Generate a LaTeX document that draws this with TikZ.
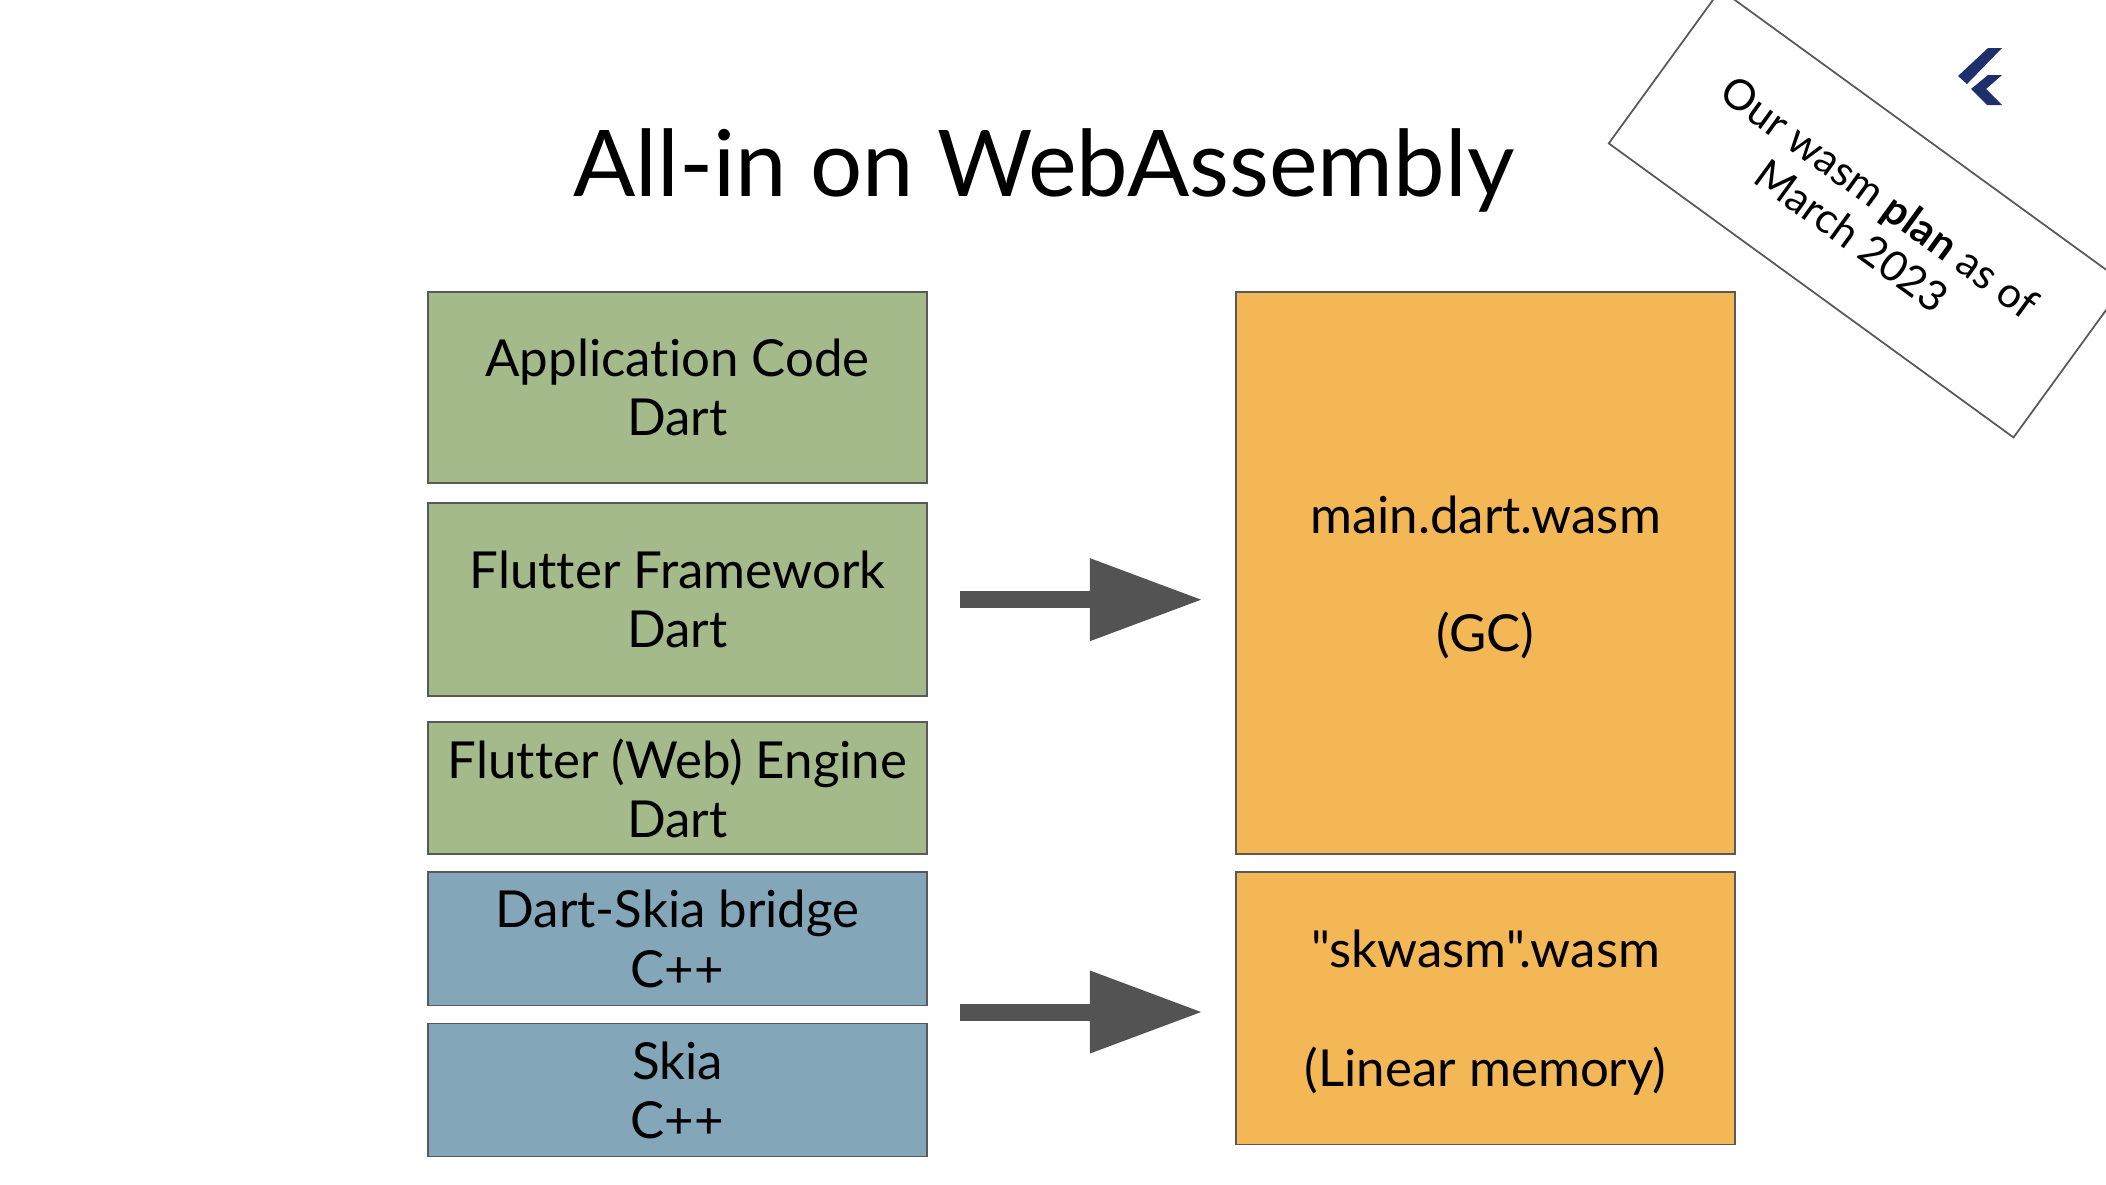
\documentclass[tikz,border=0pt]{standalone}
\usepackage{fontspec}
\newfontfamily\slidefont[Ligatures=NoCommon]{Lato}
\usetikzlibrary{positioning,arrows.meta}
\definecolor{boxgreen}{HTML}{A4BA8A}
\definecolor{boxblue}{HTML}{84A6B9}
\definecolor{boxorange}{HTML}{F3B855}
\definecolor{arrowgrey}{HTML}{535353}
\definecolor{logonavy}{HTML}{1E2F6B}
\newcommand{\toplift}{\rule{0pt}{13pt}}
\tikzset{
  stackbox/.style = {draw=black!65, line width=0.5pt, align=center, inner sep=0pt, outer sep=0pt, text centered, minimum width=4.99cm, font=\slidefont\fontsize{14.5}{16.8}\selectfont},
  dartbox/.style = {stackbox, fill=boxgreen},
  cppbox/.style = {stackbox, fill=boxblue, minimum height=1.33cm},
  wasmbox/.style = {stackbox, fill=boxorange},
  bigarrow/.style = {-{Triangle[length=1.13cm,width=0.78cm]}, arrowgrey, line width=0.17cm, shorten <=0.33cm, shorten >=0.33cm},
  notebox/.style = {draw=black!65, line width=0.5pt, inner sep=0pt, outer sep=0pt, minimum width=5cm, minimum height=1.9cm, rotate=-36},
  notetext/.style = {align=center, inner sep=0pt, rotate=-36, font=\slidefont\fontsize{12}{13.6}\selectfont},
  logopart/.style = {fill=logonavy}
}

\begin{document}
\begin{tikzpicture}[x=0.01cm, y=-0.01cm]

\clip (0,0) rectangle (2106,1184);

% Draw the title
\node [anchor=base, inner sep=0pt, font=\slidefont\fontsize{26.2}{30}\selectfont] (title) at (1044,196) {All-in on WebAssembly};

% Draw the left stack
\node [dartbox, anchor=north, minimum height=1.91cm] (app) at (677.5,292) {Application Code\\Dart};
\node [dartbox, below=0.2cm of app, minimum height=1.93cm] (framework) {Flutter Framework\\Dart};
\node [dartbox, below=0.26cm of framework, minimum height=1.32cm] (engine) {Flutter (Web) Engine\\Dart};
\node [cppbox, below=0.18cm of engine] (bridge) {Dart-Skia bridge\\C++};
\node [cppbox, below=0.18cm of bridge] (skia) {Skia\\C++};

% Draw the wasm files
\node [wasmbox, anchor=north, minimum height=5.62cm] (main) at (1485.5,292) {\toplift main.dart.wasm\\[16.8pt](GC)};
\node [wasmbox, below=0.18cm of main, minimum height=2.72cm] (skwasm) {\toplift "skwasm".wasm\\[16.8pt](Linear memory)};

% Draw the arrows
\coordinate (cpp) at (927,1012);
\draw [bigarrow] (framework.east) -- (framework.east -| main.west);
\draw [bigarrow] (cpp) -- (cpp -| skwasm.west);

% Draw the note in the corner
\node [notebox] (note) at (1867,213.5) {};
\node [notetext] (notelabel) at (1866,216) {Our wasm \textbf{plan} as of\\March 2023};
\fill [logopart] (1988,48) -- (2002,48) -- (1967,84) -- (1958,76) -- cycle;
\fill [logopart] (1988,75) -- (2002,75) -- (1986,89) -- (2002,105) -- (1987,105) -- (1971,89) -- cycle;

\end{tikzpicture}
\end{document}
